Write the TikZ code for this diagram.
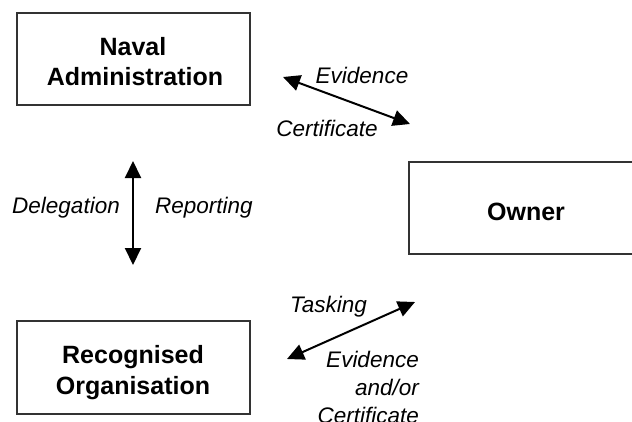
\documentclass[tikz,border=0pt]{standalone}
\usepackage{fontspec}
\setmainfont{Liberation Sans}
\usetikzlibrary{arrows.meta}
\tikzset{
  box/.style={draw=black!80, line width=1.4pt},
  boldtxt/.style={font=\fontsize{25}{31}\selectfont\bfseries, inner sep=0pt, anchor=base},
  itxt/.style={font=\fontsize{22.5}{28}\selectfont\itshape, inner sep=0pt},
  dbl/.style={line width=2pt, {Triangle[length=17pt,width=16pt]}-{Triangle[length=17pt,width=16pt]}}
}
\begin{document}
\begin{tikzpicture}[x=1pt,y=-1pt]
\clip (0,0) rectangle (632,421);
\fill[white] (0,0) rectangle (632,421);
% boxes
\draw[box] (17,13) rectangle (250,105);
\draw[box] (409,162) rectangle (645,254);
\draw[box] (17,321) rectangle (250,414);
% box texts
\node[boldtxt] (na1) at (133,55) {Naval};
\node[boldtxt] (na2) at (135,85) {Administration};
\node[boldtxt] (ow) at (526,220) {Owner};
\node[boldtxt] (ro1) at (133,363) {Recognised};
\node[boldtxt] (ro2) at (133,394) {Organisation};
% arrows
\coordinate (a1) at (283,77);
\coordinate (a2) at (410,124);
\coordinate (v1) at (133,161);
\coordinate (v2) at (133,265);
\coordinate (b1) at (415,302);
\coordinate (b2) at (287,359);
\draw[dbl] (a1) -- (a2);
\draw[dbl] (v1) -- (v2);
\draw[dbl] (b1) -- (b2);
% labels
\node[itxt, anchor=base] (ev1) at (362,83) {Evidence};
\node[itxt, anchor=base] (ce1) at (327,136) {Certificate};
\node[itxt, anchor=base east] (de) at (120,213) {Delegation};
\node[itxt, anchor=base west] (re) at (155,213) {Reporting};
\node[itxt, anchor=base west] (ta) at (290,312) {Tasking};
\node[itxt, anchor=base east] (ev2) at (419,367) {Evidence};
\node[itxt, anchor=base east] (ao) at (419,395) {and/or};
\node[itxt, anchor=base east] (ce2) at (419,423) {Certificate};
\end{tikzpicture}
\end{document}
